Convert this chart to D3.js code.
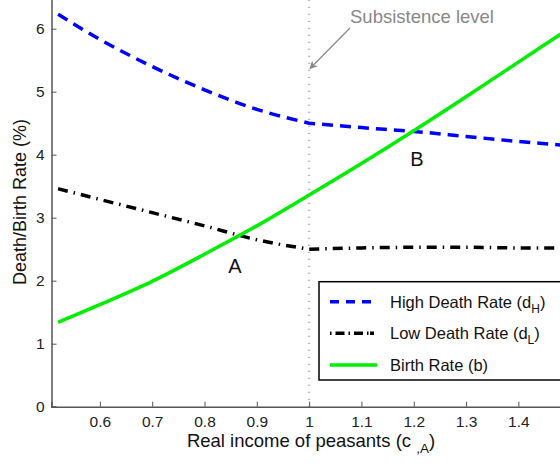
<!DOCTYPE html>
<html>
<head>
<meta charset="utf-8">
<script src="https://cdn.jsdelivr.net/npm/d3@7"></script>
<style>
  body { margin: 0; background: #fff; }
  svg { display: block; font-family: "Liberation Sans", Arial, sans-serif; }
</style>
</head>
<body>
<div id="chart"></div>
<script>
// data
var incomeLevels = [0.52, 0.6, 0.7, 0.8, 0.9, 1.0, 1.1, 1.2, 1.3, 1.4, 1.5];
var highDeathRate = [6.23, 5.83, 5.40, 5.03, 4.72, 4.50, 4.43, 4.37, 4.29, 4.21, 4.14];
var lowDeathRate = [3.46, 3.29, 3.08, 2.87, 2.65, 2.50, 2.52, 2.53, 2.53, 2.52, 2.52];
var birthRate = [1.34, 1.62, 1.99, 2.42, 2.87, 3.36, 3.86, 4.38, 4.92, 5.47, 6.02];
var xTicks = [0.6, 0.7, 0.8, 0.9, 1, 1.1, 1.2, 1.3, 1.4];
var yTicks = [0, 1, 2, 3, 4, 5, 6];
var subsistence = 1.0;

var width = 560, height = 464;

var svg = d3.select("#chart").append("svg")
    .attr("width", width)
    .attr("height", height);

var x = d3.scaleLinear().domain([0.5075, 1.5]).range([51.5, 570.7]);
var y = d3.scaleLinear().domain([0, 6.5]).range([406.7, -2.8]);

var axisColor = "#555";

// subsistence level (dotted vertical)
svg.append("line")
    .attr("x1", x(subsistence)).attr("x2", x(subsistence))
    .attr("y1", y(0)).attr("y2", y(6.5))
    .attr("stroke", "#a8a8a8")
    .attr("stroke-width", 2.5)
    .attr("stroke-dasharray", "1,6");

// axes, ticks inside like matlab
var xAxis = svg.append("g").attr("transform", "translate(0," + y(0) + ")")
    .call(d3.axisBottom(x).tickValues(xTicks).tickSize(-5).tickPadding(9.5)
        .tickFormat(d3.format("")));
var yAxis = svg.append("g").attr("transform", "translate(" + x(0.5075) + ",0)")
    .call(d3.axisLeft(y).tickValues(yTicks).tickSize(-5).tickPadding(7)
        .tickFormat(d3.format("d")));

[xAxis, yAxis].forEach(function(g) {
    g.select(".domain").attr("stroke", axisColor).attr("stroke-width", 1.5);
    g.selectAll(".tick line").attr("stroke", axisColor).attr("stroke-width", 1);
    g.selectAll(".tick text").attr("fill", "#222").attr("font-size", 15.5)
        .attr("font-family", "Liberation Sans, Arial, sans-serif");
});

// curves, split at the subsistence kink
function rows(vals) {
    return incomeLevels.map(function(v, i) { return [v, vals[i]]; });
}
var line = d3.line()
    .x(function(d) { return x(d[0]); })
    .y(function(d) { return y(d[1]); })
    .curve(d3.curveMonotoneX);

function kinkedPath(vals) {
    var pts = rows(vals);
    var left = pts.filter(function(d) { return d[0] <= subsistence; });
    var right = pts.filter(function(d) { return d[0] >= subsistence; });
    return line(left) + line(right).replace(/^M/, "L");
}

svg.append("path")
    .attr("d", kinkedPath(highDeathRate))
    .attr("fill", "none")
    .attr("stroke", "#0000ff")
    .attr("stroke-width", 3.5)
    .attr("stroke-dasharray", "11,7");

svg.append("path")
    .attr("d", kinkedPath(lowDeathRate))
    .attr("fill", "none")
    .attr("stroke", "#000")
    .attr("stroke-width", 3.5)
    .attr("stroke-dasharray", "10,6,1.5,6");

svg.append("path")
    .attr("d", line(rows(birthRate)))
    .attr("fill", "none")
    .attr("stroke", "#00ee00")
    .attr("stroke-width", 3.5);

// point labels
svg.append("text").attr("x", 235).attr("y", 273).attr("text-anchor", "middle")
    .attr("font-size", 20).attr("fill", "#111").text("A");
svg.append("text").attr("x", 417).attr("y", 166).attr("text-anchor", "middle")
    .attr("font-size", 20).attr("fill", "#111").text("B");

// subsistence annotation
svg.append("defs").append("marker")
    .attr("id", "arrow")
    .attr("viewBox", "0 0 10 10")
    .attr("refX", 9).attr("refY", 5)
    .attr("markerWidth", 10).attr("markerHeight", 8)
    .attr("markerUnits", "userSpaceOnUse")
    .attr("orient", "auto")
    .append("path")
    .attr("d", "M0,0 L10,5 L0,10 L3,5 Z")
    .attr("fill", "#888");

svg.append("line")
    .attr("x1", 350).attr("y1", 28)
    .attr("x2", 310).attr("y2", 68.5)
    .attr("stroke", "#888").attr("stroke-width", 1.2)
    .attr("marker-end", "url(#arrow)");

svg.append("text").attr("x", 350).attr("y", 23)
    .attr("font-size", 18.5).attr("fill", "#888")
    .text("Subsistence level");

// axis labels
var xl = svg.append("text")
    .attr("x", 311).attr("y", 446.5)
    .attr("text-anchor", "middle")
    .attr("font-size", 18.5).attr("fill", "#111");
xl.append("tspan").text("Real income of peasants (c ");
xl.append("tspan").attr("font-size", 13.5).attr("dy", 6).text(",A");
xl.append("tspan").attr("dy", -6).text(")");

svg.append("text")
    .attr("transform", "translate(26,202) rotate(-90)")
    .attr("text-anchor", "middle")
    .attr("font-size", 18).attr("fill", "#111")
    .text("Death/Birth Rate (%)");

// legend
var legend = svg.append("g");
legend.append("rect")
    .attr("x", 319).attr("y", 281.7)
    .attr("width", 260).attr("height", 98.3)
    .attr("fill", "#fff").attr("stroke", "#000").attr("stroke-width", 1.5);

var legendItems = [
    { name: "High Death Rate (d", sub: "H", color: "#0000ff", dash: "9,7" },
    { name: "Low Death Rate (d", sub: "L", color: "#000", dash: "1.5,4,9,4,1.5,4,9,4,1.5" },
    { name: "Birth Rate (b)", sub: null, color: "#00ee00", dash: null }
];
var rowY = [301.7, 333.3, 365];

legendItems.forEach(function(item, i) {
    legend.append("line")
        .attr("x1", 330).attr("x2", 377)
        .attr("y1", rowY[i]).attr("y2", rowY[i])
        .attr("stroke", item.color).attr("stroke-width", 3.5)
        .attr("stroke-dasharray", item.dash);
    var t = legend.append("text")
        .attr("x", 390).attr("y", rowY[i] + 6)
        .attr("font-size", 16.5).attr("fill", "#111");
    t.append("tspan").text(item.name);
    if (item.sub) {
        t.append("tspan").attr("font-size", 12).attr("dy", 5).text(item.sub);
        t.append("tspan").attr("dy", -5).text(")");
    }
});
</script>
</body>
</html>
